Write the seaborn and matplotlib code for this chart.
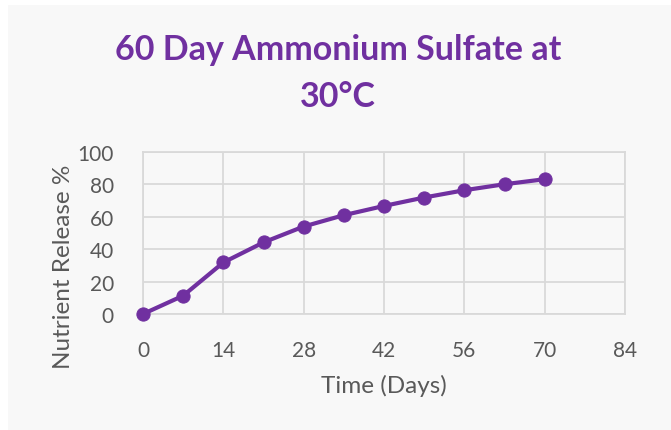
import numpy as np
import pandas as pd
import matplotlib.pyplot as plt
import matplotlib.patches as mpatches
import seaborn as sns

days = [0, 7, 14, 21, 28, 35, 42, 49, 56, 63, 70]
release = [0, 11.3, 31.8, 44.2, 54.0, 61.0, 66.7, 71.9, 76.4, 80.1, 83.2]
x_ticks = [0, 14, 28, 42, 56, 70, 84]
y_ticks = [0, 20, 40, 60, 80, 100]

purple = '#7030A0'
text_gray = '#595959'
grid_gray = '#d9d9d9'

sns.set_style('white')
plt.rcParams['font.family'] = ['Lato', 'DejaVu Sans']

df = pd.DataFrame({'Days': days, 'Release': release})

W, H = 671, 431
fig = plt.figure(figsize=(W / 100, H / 100), dpi=100, facecolor='white')
# light grey chart panel behind everything
fig.patches.append(mpatches.Rectangle((8 / W, 0), 1 - 8 / W, 1 - 6 / H,
                                      transform=fig.transFigure,
                                      facecolor='#f8f8f8', edgecolor='none', zorder=-5))

ax = fig.add_axes([143 / W, 1 - 315 / H, (625 - 143) / W, (315 - 153) / H])
ax.set_facecolor('#f8f8f8')

sns.lineplot(data=df, x='Days', y='Release', ax=ax, color=purple, linewidth=3,
             marker='o', markersize=9.5, markeredgecolor=purple, clip_on=False, zorder=3)

ax.set_xlim(0, 84)
ax.set_ylim(0, 100)
ax.set_xticks(x_ticks)
ax.set_yticks(y_ticks)
ax.grid(True, color=grid_gray, linewidth=1.3)
for s in ax.spines.values():
    s.set_color(grid_gray)
    s.set_linewidth(1.3)
ax.tick_params(axis='both', length=0, labelsize=15, labelcolor=text_gray)
ax.tick_params(axis='x', pad=19)
ax.tick_params(axis='y', pad=21)

ax.set_xlabel('Time (Days)', fontsize=17.5, color=text_gray)
ax.set_ylabel('Nutrient Release %', fontsize=17.5, color=text_gray)
ax.xaxis.set_label_coords(0.5, -(375 - 315) / (315 - 153), transform=ax.transAxes)
ax.yaxis.set_label_coords(-(143 - 74) / (625 - 143), (315 - 267) / (315 - 153))

fig.text(338 / W, 1 - 50 / H, '60 Day Ammonium Sulfate at', ha='center', va='center',
         fontsize=24.5, fontweight='bold', color=purple)
fig.text(338 / W, 1 - 97 / H, '30°C', ha='center', va='center',
         fontsize=24.5, fontweight='bold', color=purple)

fig.savefig('out.png', dpi=100, facecolor='white')
